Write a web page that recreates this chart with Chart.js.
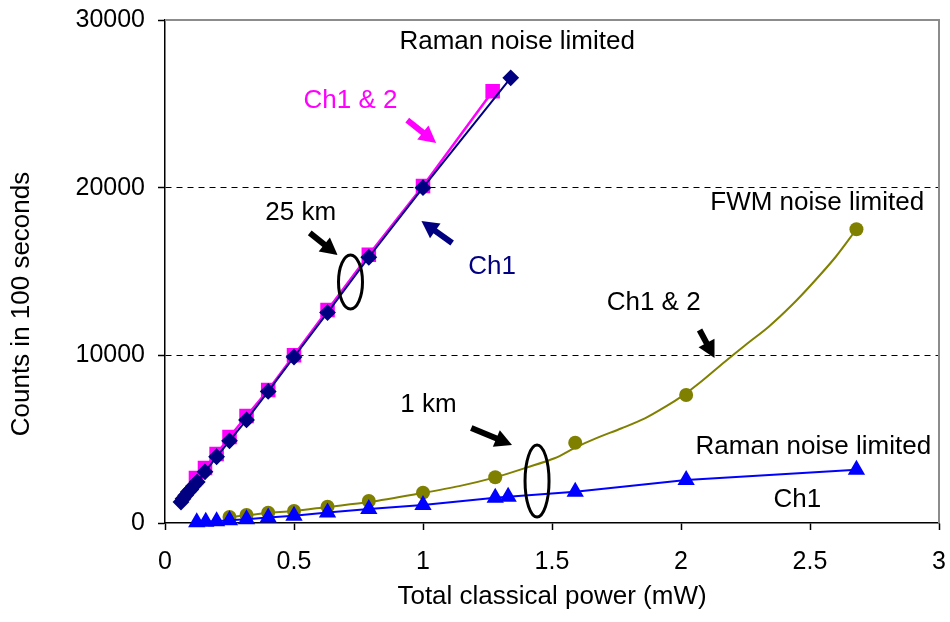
<!DOCTYPE html>
<html>
<head>
<meta charset="utf-8">
<script src="https://cdn.jsdelivr.net/npm/chart.js@4.4.0/dist/chart.umd.min.js"></script>
<style>
  html, body { margin: 0; padding: 0; background: #fff; }
  #wrap { width: 950px; height: 622px; }
</style>
</head>
<body>
<div id="wrap"><canvas id="chart" width="950" height="622"></canvas></div>
<script>
const FONT = '"Liberation Sans", Arial, sans-serif';

// 25 km fibre, Ch1 & 2 (magenta squares)
const km25BothX = [0.12, 0.155, 0.2, 0.25, 0.316, 0.4, 0.5, 0.63, 0.79, 1.0, 1.27];
const km25BothY = [2680, 3280, 4110, 5130, 6380, 7930, 10000, 12700, 16000, 20100, 25750];

// 25 km fibre, Ch1 only (navy diamonds)
const km25Ch1X = [0.062, 0.07, 0.08, 0.09, 0.1, 0.11, 0.125, 0.155, 0.2, 0.25, 0.316, 0.4, 0.5, 0.63, 0.79, 1.0, 1.34];
const km25Ch1Y = [1250, 1450, 1650, 1850, 2000, 2200, 2450, 3050, 3950, 4900, 6150, 7850, 9900, 12550, 15850, 20000, 26550];

// 1 km fibre, Ch1 & 2 (olive circles, FWM)
const km1BothX = [0.25, 0.316, 0.4, 0.5, 0.63, 0.79, 1.0, 1.28, 1.59, 2.02, 2.68];
const km1BothY = [360, 480, 615, 715, 970, 1310, 1810, 2725, 4790, 7630, 17520];

// olive curve drawn through the FWM points
const km1FitX = [0.23, 0.316, 0.4, 0.5, 0.63, 0.79, 0.99, 1.14, 1.28, 1.4, 1.51, 1.59, 1.67, 1.77, 1.86, 1.94, 2.01, 2.07, 2.17, 2.25, 2.34, 2.43, 2.51, 2.6, 2.68];
const km1FitY = [300, 460, 600, 720, 960, 1250, 1770, 2200, 2720, 3300, 3860, 4500, 5050, 5650, 6240, 6940, 7630, 8330, 9620, 10620, 11710, 13000, 14300, 15880, 17520];

// 1 km fibre, Ch1 only (blue triangles, Raman)
const km1Ch1X = [0.123, 0.158, 0.2, 0.25, 0.316, 0.4, 0.5, 0.63, 0.79, 1.0, 1.28, 1.33, 1.59, 2.02, 2.68];
const km1Ch1Y = [50, 80, 110, 170, 230, 330, 430, 620, 840, 1080, 1500, 1570, 1870, 2570, 3180];

const yTicks = [0, 10000, 20000, 30000];

// text labels, in data units
const notes = [
  { text: 'Raman noise limited', x: 1.365, y: 28690, color: '#000' },
  { text: 'Ch1 & 2', x: 0.719, y: 25170, color: '#ff00ff' },
  { text: '25 km', x: 0.526, y: 18490, color: '#000' },
  { text: 'Ch1', x: 1.268, y: 15270, color: '#000080' },
  { text: 'FWM noise limited', x: 2.528, y: 19085, color: '#000' },
  { text: 'Ch1 & 2', x: 1.894, y: 13120, color: '#000' },
  { text: '1 km', x: 1.021, y: 7040, color: '#000' },
  { text: 'Raman noise limited', x: 2.513, y: 4530, color: '#000' },
  { text: 'Ch1', x: 2.451, y: 1370, color: '#000' }
];

const arrows = [
  { from: [0.939, 24030], to: [1.051, 22660], color: '#ff00ff' },
  { from: [0.561, 17300], to: [0.669, 15980], color: '#000' },
  { from: [1.113, 16700], to: [0.994, 18010], color: '#000080' },
  { from: [2.072, 11510], to: [2.130, 9840], color: '#000' },
  { from: [1.187, 5670], to: [1.345, 4650], color: '#000' }
];

const rings = [
  { x: 0.719, y: 14370, rx: 12, ry: 27 },
  { x: 1.442, y: 2500, rx: 12, ry: 36 }
];

function pts(xs, ys) {
  return xs.map((x, i) => ({ x: x, y: ys[i] }));
}

function drawArrow(ctx, x1, y1, x2, y2, color) {
  const ang = Math.atan2(y2 - y1, x2 - x1);
  const headLen = 17, headW = 9;
  const bx = x2 - Math.cos(ang) * headLen;
  const by = y2 - Math.sin(ang) * headLen;
  ctx.strokeStyle = color;
  ctx.fillStyle = color;
  ctx.lineWidth = 6;
  ctx.beginPath();
  ctx.moveTo(x1, y1);
  ctx.lineTo(bx + Math.cos(ang), by + Math.sin(ang));
  ctx.stroke();
  ctx.beginPath();
  ctx.moveTo(x2, y2);
  ctx.lineTo(bx + Math.sin(ang) * headW, by - Math.cos(ang) * headW);
  ctx.lineTo(bx - Math.sin(ang) * headW, by + Math.cos(ang) * headW);
  ctx.closePath();
  ctx.fill();
}

// drop the extra room chart.js keeps for edge tick labels
function noEdgePad(s) {
  s.paddingLeft = 0;
  s.paddingRight = 0;
  s.paddingTop = 0;
  s.paddingBottom = 0;
}

const extras = {
  id: 'extras',
  afterDatasetsDraw(chart) {
    const ctx = chart.ctx;
    const area = chart.chartArea;
    const xs = chart.scales.x, ys = chart.scales.y;
    ctx.save();

    // grey plot frame, top and right
    ctx.strokeStyle = '#8c8c8c';
    ctx.lineWidth = 2;
    ctx.beginPath();
    ctx.moveTo(area.left, area.top);
    ctx.lineTo(area.right, area.top);
    ctx.lineTo(area.right, area.bottom);
    ctx.stroke();

    // y axis title
    ctx.save();
    ctx.translate(22, 304);
    ctx.rotate(-Math.PI / 2);
    ctx.font = '26px ' + FONT;
    ctx.fillStyle = '#000';
    ctx.textAlign = 'center';
    ctx.textBaseline = 'middle';
    ctx.fillText('Counts in 100 seconds', 0, 0);
    ctx.restore();

    ctx.font = '26px ' + FONT;
    ctx.textAlign = 'center';
    ctx.textBaseline = 'middle';
    notes.forEach(n => {
      ctx.fillStyle = n.color;
      ctx.fillText(n.text, xs.getPixelForValue(n.x), ys.getPixelForValue(n.y));
    });

    arrows.forEach(a => {
      drawArrow(ctx,
        xs.getPixelForValue(a.from[0]), ys.getPixelForValue(a.from[1]),
        xs.getPixelForValue(a.to[0]), ys.getPixelForValue(a.to[1]), a.color);
    });

    ctx.strokeStyle = '#000';
    ctx.lineWidth = 3;
    rings.forEach(r => {
      ctx.beginPath();
      ctx.ellipse(xs.getPixelForValue(r.x), ys.getPixelForValue(r.y), r.rx, r.ry, 0, 0, Math.PI * 2);
      ctx.stroke();
    });
    ctx.restore();
  }
};

const ctx = document.getElementById('chart').getContext('2d');
new Chart(ctx, {
  type: 'scatter',
  data: {
    datasets: [{
      label: '25 km Ch1',
      data: pts(km25Ch1X, km25Ch1Y),
      showLine: true,
      borderColor: '#000080',
      backgroundColor: '#000080',
      borderWidth: 2,
      pointStyle: 'rectRot',
      pointRadius: 7,
      order: 1
    }, {
      label: '25 km Ch1 & 2',
      data: pts(km25BothX, km25BothY),
      showLine: true,
      borderColor: '#ff00ff',
      backgroundColor: '#ff00ff',
      borderWidth: 2.5,
      pointStyle: 'rect',
      pointRadius: 8.5,
      order: 2
    }, {
      label: '1 km Ch1',
      data: pts(km1Ch1X, km1Ch1Y),
      showLine: true,
      borderColor: '#0000ff',
      backgroundColor: '#0000ff',
      borderWidth: 2,
      pointStyle: 'triangle',
      pointRadius: 8,
      order: 3
    }, {
      label: '1 km Ch1 & 2',
      data: pts(km1BothX, km1BothY),
      showLine: false,
      borderColor: '#808000',
      backgroundColor: '#808000',
      pointStyle: 'circle',
      pointRadius: 7,
      pointBorderWidth: 0,
      order: 4
    }, {
      label: '1 km Ch1 & 2 curve',
      data: pts(km1FitX, km1FitY),
      showLine: true,
      borderColor: '#808000',
      borderWidth: 2,
      pointRadius: 0,
      tension: 0.3,
      order: 5
    }]
  },
  options: {
    responsive: false,
    animation: false,
    clip: false,
    layout: { padding: { top: 20, right: 9, left: 0, bottom: 0 } },
    plugins: {
      legend: { display: false },
      tooltip: { enabled: false }
    },
    elements: { point: { borderWidth: 0, hoverRadius: 0 } },
    scales: {
      x: {
        type: 'linear',
        min: 0,
        max: 3,
        ticks: {
          stepSize: 0.5,
          color: '#000',
          font: { size: 25, family: FONT },
          padding: 17,
          maxRotation: 0,
          callback: v => String(v)
        },
        grid: { drawOnChartArea: false, drawTicks: true, tickLength: 7, tickColor: '#000', tickWidth: 1.5 },
        border: { color: '#000', width: 1.5 },
        title: {
          display: true,
          text: 'Total classical power (mW)',
          color: '#000',
          font: { size: 26, family: FONT },
          padding: { top: 0, bottom: 10 }
        },
        afterFit: s => { s.height = 99; noEdgePad(s); }
      },
      y: {
        type: 'linear',
        min: 0,
        max: 30000,
        afterBuildTicks: s => { s.ticks = yTicks.map(v => ({ value: v })); },
        ticks: {
          color: '#000',
          font: { size: 25, family: FONT },
          padding: 13,
          callback: v => String(v)
        },
        grid: {
          color: c => (c.tick && (c.tick.value === 10000 || c.tick.value === 20000)) ? '#000' : 'rgba(0,0,0,0)',
          lineWidth: 1,
          tickLength: 7,
          tickColor: '#000',
          tickWidth: 1.5
        },
        border: { color: '#000', width: 1.5, dash: [6, 5] },
        afterFit: s => { s.width = 165; noEdgePad(s); }
      }
    }
  },
  plugins: [extras]
});
</script>
</body>
</html>
